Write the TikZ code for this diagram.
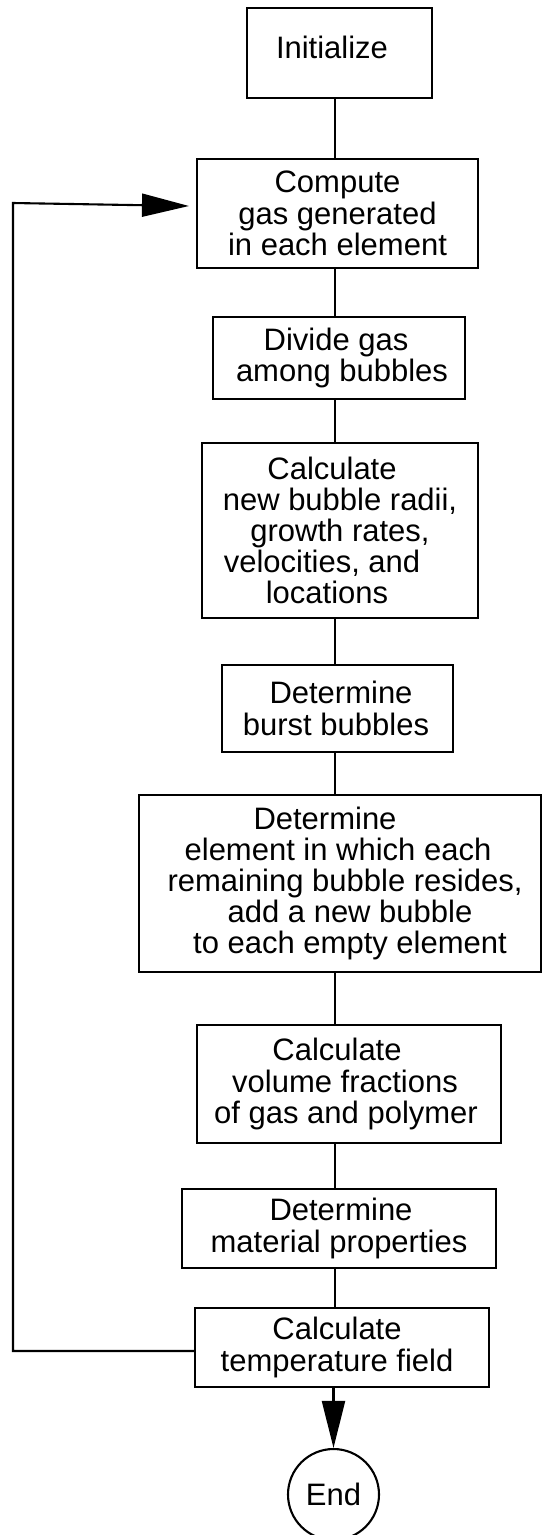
\documentclass[tikz,border=0pt]{standalone}
\usepackage{fontspec}
\setmainfont{Liberation Sans}
\usetikzlibrary{arrows.meta,calc}
\begin{document}
\begin{tikzpicture}[x=1pt,y=-1pt,
  box/.style={draw,line width=2.1pt,rectangle,align=center,inner sep=2pt,
    font=\fontsize{31}{31.2}\selectfont},
  conn/.style={line width=2.1pt},
  tip/.style={-{Triangle[length=47pt,width=23pt]}}]
\useasboundingbox (0,0) rectangle (543,1535);

\node[box,minimum width=185pt,minimum height=90pt,text depth=12pt] (init) at (339.5,53) {Initialize\kern15pt};
\node[box,minimum width=281pt,minimum height=109pt] (comp) at (337.5,213.5)
  {Compute\\gas generated\\in each element};
\node[box,minimum width=252pt,minimum height=82pt] (div) at (339,358)
  {Divide gas\kern6pt\\\hspace*{6pt}among bubbles};
\node[box,minimum width=276pt,minimum height=175pt] (calc) at (340,530.5)
  {Calculate\kern16pt\\new bubble radii,\\growth rates,\\velocities, and\kern36pt\\locations\kern26pt};
\node[box,minimum width=231pt,minimum height=87pt] (burst) at (337.5,708.5)
  {\hspace*{7pt}Determine\\burst bubbles\kern3pt};
\node[box,minimum width=402pt,minimum height=177pt] (elem) at (340,883.5)
  {Determine\kern30pt\\element in which each\kern4pt\\\hspace*{10pt}remaining bubble resides,\\\hspace*{20pt}add a new bubble\\\hspace*{20pt}to each empty element};
\node[box,minimum width=304pt,minimum height=118pt] (vol) at (349,1084)
  {Calculate\kern24pt\\volume fractions\kern8pt\\of gas and polymer\kern6pt};
\node[box,minimum width=314pt,minimum height=79pt] (mat) at (339,1228.5)
  {\hspace*{4pt}Determine\\material properties};
\node[box,minimum width=294pt,minimum height=79pt] (temp) at (342,1347.5)
  {Calculate\kern10pt\\temperature field\kern10pt};
\node[draw,circle,line width=2.1pt,minimum size=91pt,inner sep=0pt,
  font=\fontsize{31}{31}\selectfont] (end) at (333.5,1494.5) {End};

\coordinate (cx) at (335,0);
\draw[conn] (init.south -| cx) -- (comp.north -| cx);
\draw[conn] (comp.south -| cx) -- (div.north -| cx);
\draw[conn] (div.south -| cx) -- (calc.north -| cx);
\draw[conn] (calc.south -| cx) -- (burst.north -| cx);
\draw[conn] (burst.south -| cx) -- (elem.north -| cx);
\draw[conn] (elem.south -| cx) -- (vol.north -| cx);
\draw[conn] (vol.south -| cx) -- (mat.north -| cx);
\draw[conn] (mat.south -| cx) -- (temp.north -| cx);
\draw[conn,tip] (temp.south -| end) -- (end.north);

\coordinate (lp1) at (13,1351);
\coordinate (lp2) at (13,203);
\draw[conn,tip] (lp1 -| temp.west) -- (lp1) -- (lp2) -- ($(comp.west)+(-7,-7.5)$);
\end{tikzpicture}
\end{document}
